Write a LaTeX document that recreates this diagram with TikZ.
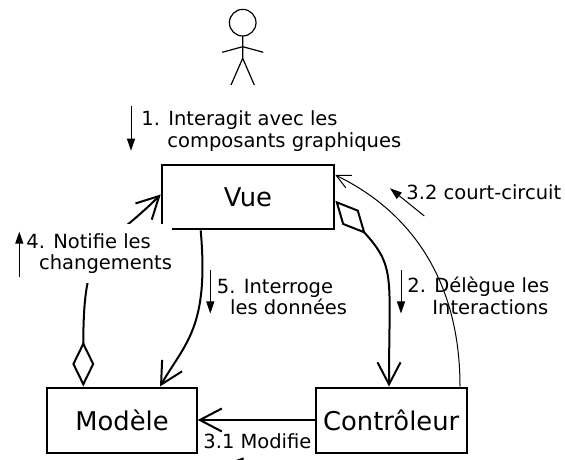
\documentclass[tikz,border=0pt]{standalone}
\usepackage{fontspec}
\setmainfont{DejaVu Sans}
\usetikzlibrary{arrows.meta,positioning}

\begin{document}
\begin{tikzpicture}[x=0.5pt, y=0.5pt,
    box/.style={draw, line width=1pt, inner sep=0pt, minimum height=32.5pt,
        font=\fontsize{12.9pt}{15pt}\selectfont},
    lbl/.style={anchor=base west, align=left, inner sep=0pt,
        font=\fontsize{9.75pt}{10.85pt}\selectfont},
    barb/.style={line width=1pt, -{Straight Barb[length=11pt, width=11.5pt]}},
    agg/.style={line width=1pt,
        {Diamond[open, length=22.5pt, width=11pt]}-{Straight Barb[length=11pt, width=11.5pt]}},
    msg/.style={line width=0.5pt, -{Triangle[length=6pt, width=4pt]}},
]
\useasboundingbox (0,0) rectangle (565,459);
\clip (0,0) rectangle (565,459);

% acteur
\draw[line width=0.6pt] (242.7,436.3) circle (13.3);
\draw[line width=0.6pt] (242.7,423) -- (242.7,400.7) -- (231,374)
    (242.7,400.7) -- (254.3,374)
    (222.3,406.7) -- (242.7,412.3) -- (263.3,406.7);

\node[box, minimum width=86.3pt, minimum height=32.2pt] (vue) at (248,261.8) {Vue};
\node[box, minimum width=74.7pt] (modele) at (122,39) {Modèle};
\node[box, minimum width=75.5pt, right of=modele, node distance=134.6pt] (controleur) {Contrôleur};

\draw[agg] ([xshift=-19.35pt]modele.north) to[out=90, in=225, out looseness=1.83, in looseness=1] ([yshift=1.35pt]vue.west);
\draw[barb] ([xshift=-23.65pt]vue.south) to[out=-85, in=60, out looseness=1.55, in looseness=0.8] ([xshift=19pt]modele.north);
\draw[agg] ([yshift=-1.75pt]vue.east) to[out=-47.6, in=90, out looseness=1.19, in looseness=1.45] ([xshift=-1.1pt]controleur.north);
\draw[barb] (controleur.west) -- (controleur.west -| modele.east);
\draw[line width=0.5pt, -{Straight Barb[length=7pt, width=7pt]}]
    ([xshift=34.4pt]controleur.north) to[out=90, in=-26, out looseness=1.04, in looseness=0.94] ([yshift=11.1pt]vue.east);

% messages
\node[lbl] (l1) at (141,311.3) {1. Interagit avec les\\\hspace*{13pt}composants graphiques};
\node[lbl, fill=white, inner ysep=4.5pt] (l4) at (26,189) {4. Notifie les\\\hspace*{6.35pt}changements};
\node[lbl] (l5) at (216.5,144) {5. Interroge\\\hspace*{6.65pt}les données};
\node[lbl] (l2) at (407,144.3) {2. Délègue les\\\hspace*{12.5pt}Interactions};
\node[lbl] (l32) at (406,259) {3.2 court-circuit};
\node[lbl] (l31) at (203,10.7) {3.1 Modifie};

\draw[msg] ([xshift=-5pt, yshift=20.85pt]l1.base west) -- ++(0,-44.7);
\draw[msg] ([xshift=-3.35pt, yshift=-3.35pt]l4.base west) -- ++(0,45);
\draw[msg] ([xshift=-3.1pt, yshift=22.5pt]l5.base west) -- ++(0,-43.5);
\draw[msg] ([xshift=-3pt, yshift=22.35pt]l2.base west) -- ++(0,-43.5);
\draw[msg] ([xshift=9.15pt, yshift=-8pt]l32.base west) -- ++(-34.3,27.7);
\draw[msg] ([xshift=33.5pt, yshift=-6.6pt]l31.base west) -- ++(-38.3,0);
\end{tikzpicture}
\end{document}
